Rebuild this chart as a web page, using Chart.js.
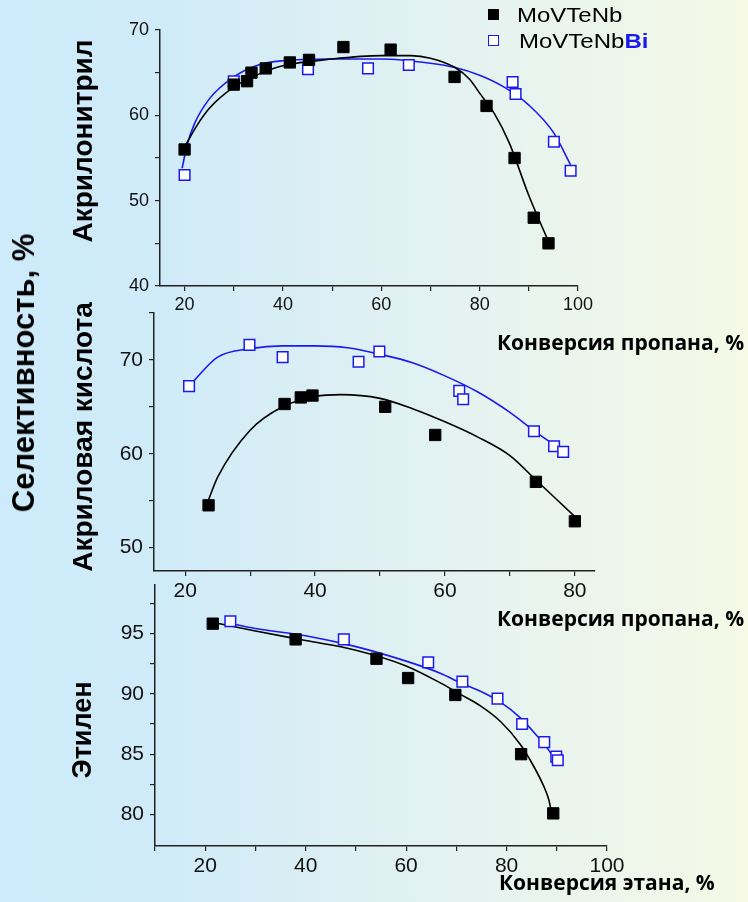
<!DOCTYPE html>
<html lang="ru">
<head>
    <meta charset="UTF-8">
    <title>Селективность от конверсии</title>
    <style>
        body {
            margin: 0;
            width: 748px;
            height: 902px;
            position: relative;
            overflow: hidden;
            font-family: "Liberation Sans", Arial, sans-serif;
            background: linear-gradient(to right, #cdebfb 0%, #d0ebf8 22%, #e3f2f1 60%, #f6f9e6 100%);
        }
        canvas {
            position: absolute;
            left: 0;
            top: 0;
        }
        .vlabel {
            position: absolute;
            font-weight: bold;
            color: #000;
            white-space: nowrap;
            transform: translate(-50%, -50%) rotate(-90deg);
        }
        .xlabel {
            position: absolute;
            font-family: "Open Sans", sans-serif;
            font-weight: bold;
            font-size: 21px;
            line-height: 28px;
            color: #000;
            white-space: nowrap;
        }
        .legend {
            position: absolute;
            left: 488px;
            font-size: 20px;
            color: #000;
            white-space: nowrap;
        }
        .legend .mark {
            display: inline-block;
            width: 11px;
            height: 11px;
            margin-right: 18px;
            vertical-align: 2px;
            box-sizing: border-box;
        }
        .legend .txt {
            display: inline-block;
            transform: scaleX(1.2);
            transform-origin: left center;
        }
    </style>
</head>
<body>

    <canvas id="acn" width="748" height="902"></canvas>
    <canvas id="acr" width="748" height="902"></canvas>
    <canvas id="eth" width="748" height="902"></canvas>

    <div class="vlabel" style="left:24px; top:373px; font-size:31px;">Селективность, %</div>
    <div class="vlabel" style="left:83px; top:141px; font-size:28px;">Акрилонитрил</div>
    <div class="vlabel" style="left:83px; top:437px; font-size:28px;">Акриловая кислота</div>
    <div class="vlabel" style="left:82px; top:730px; font-size:27px;">Этилен</div>

    <div class="xlabel" style="left:497px; top:328px;">Конверсия пропана, %</div>
    <div class="xlabel" style="left:497px; top:604px;">Конверсия пропана, %</div>
    <div class="xlabel" style="left:499px; top:868px;">Конверсия этана, %</div>

    <div class="legend" style="top:4px;"><span class="mark" style="background:#000;"></span><span class="txt">MoVTeNb</span></div>
    <div class="legend" style="top:30px;"><span class="mark" style="border:1.5px solid #1a1af0; background:#fff; margin-right:20px;"></span><span class="txt">MoVTeNb<b style="color:#1a1af0;">Bi</b></span></div>

    <script src="https://cdn.jsdelivr.net/npm/chart.js"></script>
    <script>
        // Акрилонитрил (конверсия пропана)
        const acnX = [20, 30, 32.7, 33.6, 36.5, 41.4, 45.3, 52.3, 61.9, 74.9, 81.4, 87.1, 91.0, 94.0];
        const acnY = [56.0, 63.6, 64.0, 65.0, 65.5, 66.2, 66.5, 68.0, 67.7, 64.5, 61.1, 55.0, 48.0, 45.0];
        const acnBiX = [20, 30, 45.1, 57.3, 65.6, 86.7, 87.3, 95.1, 98.5];
        const acnBiY = [53.0, 64.0, 65.4, 65.5, 65.9, 63.9, 62.5, 56.9, 53.5];
        const acnFitX = [20, 22.5, 25, 30, 35, 40, 50, 60, 66, 70, 75, 78, 80, 83, 86, 90, 94];
        const acnFitY = [56.3, 58.8, 60.8, 63.3, 64.8, 65.8, 66.6, 67.0, 67.0, 66.7, 65.6, 64.2, 62.6, 60.2, 56.8, 50.6, 45.2];
        const acnBiFitX = [19.5, 20.5, 22, 25, 30, 35, 40, 50, 60, 70, 75, 80, 85, 90, 95, 98.5];
        const acnBiFitY = [53.8, 56.5, 59.0, 61.9, 64.5, 65.9, 66.4, 66.6, 66.6, 66.1, 65.6, 64.7, 63.3, 61.2, 58.0, 54.2];

        // Акриловая кислота (конверсия пропана)
        const acrX = [23.6, 35.3, 37.8, 39.6, 50.8, 58.5, 74.0, 80.0];
        const acrY = [54.5, 65.3, 66.0, 66.2, 65.0, 62.0, 57.0, 52.8];
        const acrBiX = [20.6, 29.9, 35.0, 46.7, 49.9, 62.2, 62.8, 73.7, 76.8, 78.2];
        const acrBiY = [67.2, 71.6, 70.3, 69.8, 70.9, 66.7, 65.8, 62.4, 60.8, 60.2];
        const acrFitX = [23.5, 25, 30, 35, 40, 44, 50, 55, 60, 65, 70, 74, 80];
        const acrFitY = [54.9, 57.5, 62.5, 65.0, 66.1, 66.3, 65.9, 64.8, 63.4, 61.8, 59.8, 57.2, 53.3];
        const acrBiFitX = [21.1, 25, 30, 35, 40, 45, 50, 55, 60, 65, 70, 74, 78.2];
        const acrBiFitY = [67.6, 70.3, 71.2, 71.5, 71.5, 71.3, 70.6, 69.7, 68.3, 66.6, 64.4, 62.3, 60.3];

        // Этилен (конверсия этана)
        const ethX = [21.5, 38.0, 54.1, 60.4, 69.8, 82.9, 89.3];
        const ethY = [95.8, 94.5, 92.9, 91.3, 89.9, 85.0, 80.1];
        const ethBiX = [25.0, 47.6, 64.4, 71.2, 78.2, 83.1, 87.5, 89.9, 90.2];
        const ethBiY = [96.0, 94.5, 92.6, 91.0, 89.6, 87.5, 86.0, 84.8, 84.5];
        const ethFitX = [21.6, 30, 40, 50, 60, 66.8, 70.8, 74.8, 78.8, 82.75, 85.4, 87.4, 88.4, 88.9];
        const ethFitY = [95.9, 95.2, 94.4, 93.6, 92.3, 90.9, 89.95, 89.0, 87.7, 85.8, 84.0, 82.35, 81.25, 80.3];
        const ethBiFitX = [24.0, 30, 40, 50, 60, 66.8, 70.8, 74.8, 78.8, 82.75, 86.1, 88.1, 90.4];
        const ethBiFitY = [95.9, 95.4, 94.8, 93.9, 92.7, 91.7, 90.9, 90.2, 89.3, 88.0, 86.5, 85.5, 84.1];

        // ticks
        const acnXTicks = [20, 30, 40, 50, 60, 70, 80, 90, 100];
        const acnXLabels = [20, 40, 60, 80, 100];
        const acnYTicks = [40, 45, 50, 55, 60, 65, 70];
        const acnYLabels = [40, 50, 60, 70];
        const acrXTicks = [20, 30, 40, 50, 60, 70, 80];
        const acrXLabels = [20, 40, 60, 80];
        const acrYTicks = [50, 55, 60, 65, 70, 75];
        const acrYLabels = [50, 60, 70];
        const ethXTicks = [10, 20, 30, 40, 50, 60, 70, 80, 90, 100];
        const ethXLabels = [20, 40, 60, 80, 100];
        const ethYTicks = [80, 82.5, 85, 87.5, 90, 92.5, 95, 97.5];
        const ethYLabels = [80, 85, 90, 95];

        const BLUE = '#1a1af0';
        const AXIS = '#222';

        function pts(xs, ys) {
            return xs.map((x, i) => ({ x: x, y: ys[i] }));
        }

        // one panel = one chart on a full-page transparent canvas,
        // box gives the plot area in page pixels
        function panel(id, box, xRange, yRange, xTicks, xLabels, yTicks, yLabels, d, fontSize) {
            const axisCommon = {
                type: 'linear',
                border: { display: true, color: AXIS, width: 1.5 },
                grid: { drawOnChartArea: false, drawTicks: true, tickLength: 5, color: AXIS, lineWidth: 1.2 }
            };
            new Chart(document.getElementById(id), {
                type: 'scatter',
                data: {
                    datasets: [
                        { data: pts(d[0], d[1]), pointStyle: 'rect', pointRadius: 8, backgroundColor: '#000', borderColor: '#000', borderWidth: 1, order: 0 },
                        { data: pts(d[2], d[3]), pointStyle: 'rect', pointRadius: 7.5, backgroundColor: '#fff', borderColor: BLUE, borderWidth: 1.5, order: 0 },
                        { data: pts(d[4], d[5]), showLine: true, pointRadius: 0, borderColor: '#000', borderWidth: 1.6, cubicInterpolationMode: 'monotone', order: 1 },
                        { data: pts(d[6], d[7]), showLine: true, pointRadius: 0, borderColor: BLUE, borderWidth: 1.6, cubicInterpolationMode: 'monotone', order: 1 }
                    ]
                },
                options: {
                    responsive: false,
                    animation: false,
                    devicePixelRatio: 1,
                    layout: {
                        padding: { left: 0, top: box.top, right: 748 - box.right, bottom: 902 - box.bottom - 40 }
                    },
                    plugins: { legend: { display: false }, tooltip: { enabled: false } },
                    scales: {
                        x: Object.assign({}, axisCommon, {
                            min: xRange[0], max: xRange[1],
                            afterBuildTicks: s => { s.ticks = xTicks.map(v => ({ value: v })); },
                            afterFit: s => { s.height = 40; },
                            ticks: {
                                autoSkip: false, maxRotation: 0, padding: 3, color: '#111',
                                font: { size: fontSize.x },
                                callback: v => xLabels.includes(v) ? String(v) : ''
                            }
                        }),
                        y: Object.assign({}, axisCommon, {
                            min: yRange[0], max: yRange[1],
                            afterBuildTicks: s => { s.ticks = yTicks.map(v => ({ value: v })); },
                            afterFit: s => { s.width = box.left; },
                            ticks: {
                                autoSkip: false, padding: 6, color: '#111',
                                font: { size: fontSize.y },
                                callback: v => yLabels.includes(v) ? String(v) : ''
                            }
                        })
                    }
                }
            });
        }

        Chart.defaults.font.family = '"Liberation Sans", Arial, sans-serif';

        panel('acn', { left: 160, right: 578, top: 30, bottom: 286 }, [15, 100], [40, 70],
            acnXTicks, acnXLabels, acnYTicks, acnYLabels,
            [acnX, acnY, acnBiX, acnBiY, acnFitX, acnFitY, acnBiFitX, acnBiFitY], { x: 18, y: 18 });

        panel('acr', { left: 154, right: 595, top: 313, bottom: 571 }, [15.2, 83.1], [47.5, 75],
            acrXTicks, acrXLabels, acrYTicks, acrYLabels,
            [acrX, acrY, acrBiX, acrBiY, acrFitX, acrFitY, acrBiFitX, acrBiFitY], { x: 21, y: 21 });

        panel('eth', { left: 155, right: 607, top: 585, bottom: 846 }, [10, 100], [77.4, 99],
            ethXTicks, ethXLabels, ethYTicks, ethYLabels,
            [ethX, ethY, ethBiX, ethBiY, ethFitX, ethFitY, ethBiFitX, ethBiFitY], { x: 21, y: 21 });
    </script>

</body>
</html>
